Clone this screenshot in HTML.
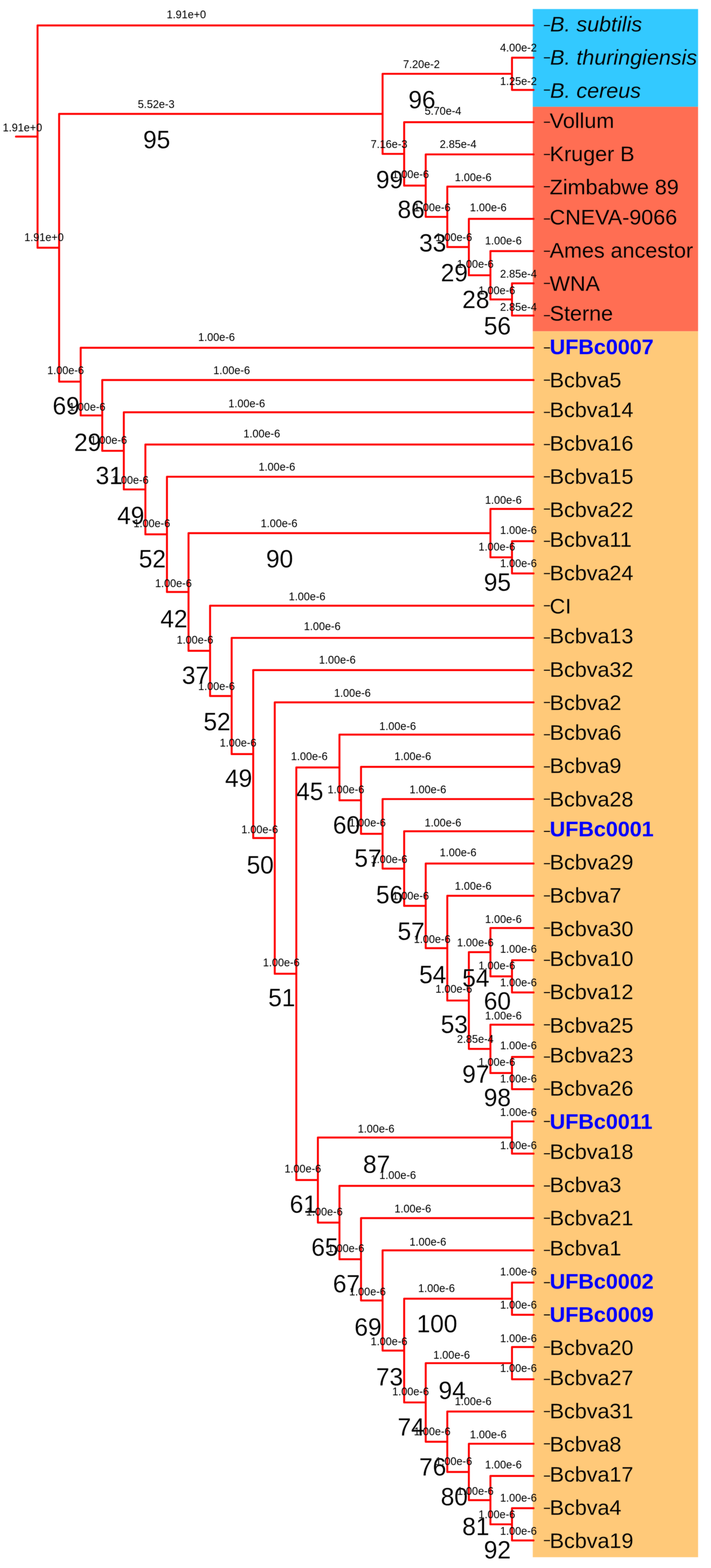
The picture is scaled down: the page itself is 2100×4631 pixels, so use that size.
<!DOCTYPE html>
<html lang="en"><head><meta charset="utf-8"><title>Phylogenetic tree</title>
<style>html,body{margin:0;padding:0;background:#fff}body{width:2100px;height:4631px;overflow:hidden}svg{display:block}.bl{filter:blur(1px)}text{font-family:"Liberation Sans",sans-serif;fill:#000}.s{font-size:32px;text-anchor:middle}.b{font-size:72px;text-anchor:middle;stroke:#fff;stroke-width:0.3px}.l{font-size:63.5px}.l{stroke-width:0.3px}.kb{stroke:#33c9ff}.kr{stroke:#ff6e53}.ko{stroke:#ffc979}.i{font-style:italic}.u{font-weight:bold;fill:#0000ff;stroke:none}</style></head><body>
<svg width="2100" height="4631" viewBox="0 0 2100 4631">
<g id="c">
<rect width="2100" height="4631" fill="#fff"/>
<rect x="1573.6" y="26.7" width="488.2" height="288.7" fill="#33c9ff"/>
<rect x="1573.6" y="315.4" width="488.2" height="663" fill="#ff6e53"/>
<rect x="1573.6" y="978.4" width="488.2" height="3620.7" fill="#ffc979"/>
<path d="M47.2 403.4H110.9M110.9 75.2V731.7M110.9 75.2H1575.9M110.9 731.7H174.6M174.6 336.3V1127.1M174.6 336.3H1130M1130 218V454.5M1130 218H1512.2M1512.2 170.4V265.6M1512.2 170.4H1575.9M1512.2 265.6H1575.9M1130 454.5H1193.7M1193.7 360.8V548.2M1193.7 360.8H1575.9M1193.7 548.2H1257.4M1257.4 456V640.5M1257.4 456H1575.9M1257.4 640.5H1321.1M1321.1 551.2V729.7M1321.1 551.2H1575.9M1321.1 729.7H1384.8M1384.8 646.4V813M1384.8 646.4H1575.9M1384.8 813H1448.5M1448.5 741.6V884.4M1448.5 741.6H1575.9M1448.5 884.4H1512.2M1512.2 836.8V932M1512.2 836.8H1575.9M1512.2 932H1575.9M174.6 1127.1H238.3M238.3 1027.2V1227M238.3 1027.2H1575.9M238.3 1227H302M302 1122.4V1331.5M302 1122.4H1575.9M302 1331.5H365.7M365.7 1217.6V1445.5M365.7 1217.6H1575.9M365.7 1445.5H429.4M429.4 1312.8V1578.2M429.4 1312.8H1575.9M429.4 1578.2H493.1M493.1 1408V1748.4M493.1 1408H1575.9M493.1 1748.4H556.8M556.8 1574.6V1922.2M556.8 1574.6H1448.5M1448.5 1503.2V1646M1448.5 1503.2H1575.9M1448.5 1646H1512.2M1512.2 1598.4V1693.6M1512.2 1598.4H1575.9M1512.2 1693.6H1575.9M556.8 1922.2H620.5M620.5 1788.8V2055.6M620.5 1788.8H1575.9M620.5 2055.6H684.2M684.2 1884V2227.2M684.2 1884H1575.9M684.2 2227.2H747.9M747.9 1979.2V2475.2M747.9 1979.2H1575.9M747.9 2475.2H811.5M811.5 2074.4V2875.9M811.5 2074.4H1575.9M811.5 2875.9H875.2M875.2 2266.7V3485.2M875.2 2266.7H1002.6M1002.6 2169.6V2363.7M1002.6 2169.6H1575.9M1002.6 2363.7H1066.3M1066.3 2264.8V2462.6M1066.3 2264.8H1575.9M1066.3 2462.6H1130M1130 2360V2565.3M1130 2360H1575.9M1130 2565.3H1193.7M1193.7 2455.2V2675.4M1193.7 2455.2H1575.9M1193.7 2675.4H1257.4M1257.4 2550.4V2800.3M1257.4 2550.4H1575.9M1257.4 2800.3H1321.1M1321.1 2645.6V2955M1321.1 2645.6H1575.9M1321.1 2955H1384.8M1384.8 2812.2V3097.8M1384.8 2812.2H1448.5M1448.5 2740.8V2883.6M1448.5 2740.8H1575.9M1448.5 2883.6H1512.2M1512.2 2836V2931.2M1512.2 2836H1575.9M1512.2 2931.2H1575.9M1384.8 3097.8H1448.5M1448.5 3026.4V3169.2M1448.5 3026.4H1575.9M1448.5 3169.2H1512.2M1512.2 3121.6V3216.8M1512.2 3121.6H1575.9M1512.2 3216.8H1575.9M875.2 3485.2H938.9M938.9 3359.6V3610.8M938.9 3359.6H1512.2M1512.2 3312V3407.2M1512.2 3312H1575.9M1512.2 3407.2H1575.9M938.9 3610.8H1002.6M1002.6 3502.4V3719.2M1002.6 3502.4H1575.9M1002.6 3719.2H1066.3M1066.3 3597.6V3840.8M1066.3 3597.6H1575.9M1066.3 3840.8H1130M1130 3692.8V3988.8M1130 3692.8H1575.9M1130 3988.8H1193.7M1193.7 3835.6V4142M1193.7 3835.6H1512.2M1512.2 3788V3883.2M1512.2 3788H1575.9M1512.2 3883.2H1575.9M1193.7 4142H1257.4M1257.4 4026V4258.1M1257.4 4026H1512.2M1512.2 3978.4V4073.6M1512.2 3978.4H1575.9M1512.2 4073.6H1575.9M1257.4 4258.1H1321.1M1321.1 4168.8V4347.3M1321.1 4168.8H1575.9M1321.1 4347.3H1384.8M1384.8 4264V4430.6M1384.8 4264H1575.9M1384.8 4430.6H1448.5M1448.5 4359.2V4502M1448.5 4359.2H1575.9M1448.5 4502H1512.2M1512.2 4454.4V4549.6M1512.2 4454.4H1575.9M1512.2 4549.6H1575.9" fill="none" stroke="#ff0000" stroke-width="5.7" stroke-linecap="round" stroke-linejoin="round"/>
<path d="M1606.5 75.5h18M1606.5 170.7h18M1606.5 265.9h18M1606.5 361.1h18M1606.5 456.3h18M1606.5 551.5h18M1606.5 646.7h18M1606.5 741.9h18M1606.5 837.1h18M1606.5 932.3h18M1606.5 1027.5h18M1606.5 1122.7h18M1606.5 1217.9h18M1606.5 1313.1h18M1606.5 1408.3h18M1606.5 1503.5h18M1606.5 1598.7h18M1606.5 1693.9h18M1606.5 1789.1h18M1606.5 1884.3h18M1606.5 1979.5h18M1606.5 2074.7h18M1606.5 2169.9h18M1606.5 2265.1h18M1606.5 2360.3h18M1606.5 2455.5h18M1606.5 2550.7h18M1606.5 2645.9h18M1606.5 2741.1h18M1606.5 2836.3h18M1606.5 2931.5h18M1606.5 3026.7h18M1606.5 3121.9h18M1606.5 3217.1h18M1606.5 3312.3h18M1606.5 3407.5h18M1606.5 3502.7h18M1606.5 3597.9h18M1606.5 3693.1h18M1606.5 3788.3h18M1606.5 3883.5h18M1606.5 3978.7h18M1606.5 4073.9h18M1606.5 4169.1h18M1606.5 4264.3h18M1606.5 4359.5h18M1606.5 4454.7h18M1606.5 4549.9h18" fill="none" stroke="#000" stroke-width="3"/>
<g class="s">
<text transform="matrix(1 0 0 1.04 66.3 388)">1.91e+0</text>
<text transform="matrix(1 0 0 1.04 550.4 54)">1.91e+0</text>
<text transform="matrix(1 0 0 1.04 130 712.1)">1.91e+0</text>
<text transform="matrix(1 0 0 1.04 461.2 319.2)">5.52e-3</text>
<text transform="matrix(1 0 0 1.04 1244.7 201.4)">7.20e-2</text>
<text transform="matrix(1 0 0 1.04 1531.3 152.2)">4.00e-2</text>
<text transform="matrix(1 0 0 1.04 1531.3 250.5)">1.25e-2</text>
<text transform="matrix(1 0 0 1.04 1149.1 437.1)">7.16e-3</text>
<text transform="matrix(1 0 0 1.04 1308.4 338.9)">5.70e-4</text>
<text transform="matrix(1 0 0 1.04 1212.8 525.5)">1.00e-6</text>
<text transform="matrix(1 0 0 1.04 1353 437.1)">2.85e-4</text>
<text transform="matrix(1 0 0 1.04 1276.5 623.7)">1.00e-6</text>
<text transform="matrix(1 0 0 1.04 1397.6 535.3)">1.00e-6</text>
<text transform="matrix(1 0 0 1.04 1340.2 712.1)">1.00e-6</text>
<text transform="matrix(1 0 0 1.04 1442.1 623.7)">1.00e-6</text>
<text transform="matrix(1 0 0 1.04 1403.9 790.7)">1.00e-6</text>
<text transform="matrix(1 0 0 1.04 1486.7 722)">1.00e-6</text>
<text transform="matrix(1 0 0 1.04 1467.6 869.3)">1.00e-6</text>
<text transform="matrix(1 0 0 1.04 1531.3 820.2)">2.85e-4</text>
<text transform="matrix(1 0 0 1.04 1531.3 918.4)">2.85e-4</text>
<text transform="matrix(1 0 0 1.04 193.7 1105.1)">1.00e-6</text>
<text transform="matrix(1 0 0 1.04 639.6 1006.8)">1.00e-6</text>
<text transform="matrix(1 0 0 1.04 257.4 1213.1)">1.00e-6</text>
<text transform="matrix(1 0 0 1.04 684.2 1105.1)">1.00e-6</text>
<text transform="matrix(1 0 0 1.04 321.1 1311.3)">1.00e-6</text>
<text transform="matrix(1 0 0 1.04 728.7 1203.3)">1.00e-6</text>
<text transform="matrix(1 0 0 1.04 384.8 1429.2)">1.00e-6</text>
<text transform="matrix(1 0 0 1.04 773.3 1291.7)">1.00e-6</text>
<text transform="matrix(1 0 0 1.04 448.5 1556.9)">1.00e-6</text>
<text transform="matrix(1 0 0 1.04 817.9 1389.9)">1.00e-6</text>
<text transform="matrix(1 0 0 1.04 512.2 1733.7)">1.00e-6</text>
<text transform="matrix(1 0 0 1.04 824.3 1556.9)">1.00e-6</text>
<text transform="matrix(1 0 0 1.04 1486.7 1488.2)">1.00e-6</text>
<text transform="matrix(1 0 0 1.04 1467.6 1625.7)">1.00e-6</text>
<text transform="matrix(1 0 0 1.04 1531.3 1576.6)">1.00e-6</text>
<text transform="matrix(1 0 0 1.04 1531.3 1674.8)">1.00e-6</text>
<text transform="matrix(1 0 0 1.04 575.9 1900.7)">1.00e-6</text>
<text transform="matrix(1 0 0 1.04 907.1 1773)">1.00e-6</text>
<text transform="matrix(1 0 0 1.04 639.6 2038.3)">1.00e-6</text>
<text transform="matrix(1 0 0 1.04 951.7 1861.4)">1.00e-6</text>
<text transform="matrix(1 0 0 1.04 703.3 2205.2)">1.00e-6</text>
<text transform="matrix(1 0 0 1.04 996.3 1959.7)">1.00e-6</text>
<text transform="matrix(1 0 0 1.04 767 2460.6)">1.00e-6</text>
<text transform="matrix(1 0 0 1.04 1040.9 2057.9)">1.00e-6</text>
<text transform="matrix(1 0 0 1.04 830.7 2853.6)">1.00e-6</text>
<text transform="matrix(1 0 0 1.04 913.5 2244.5)">1.00e-6</text>
<text transform="matrix(1 0 0 1.04 1174.6 2156.1)">1.00e-6</text>
<text transform="matrix(1 0 0 1.04 1021.7 2342.8)">1.00e-6</text>
<text transform="matrix(1 0 0 1.04 1219.2 2244.5)">1.00e-6</text>
<text transform="matrix(1 0 0 1.04 1085.4 2441)">1.00e-6</text>
<text transform="matrix(1 0 0 1.04 1263.8 2342.8)">1.00e-6</text>
<text transform="matrix(1 0 0 1.04 1149.1 2549)">1.00e-6</text>
<text transform="matrix(1 0 0 1.04 1308.4 2441)">1.00e-6</text>
<text transform="matrix(1 0 0 1.04 1212.8 2657.1)">1.00e-6</text>
<text transform="matrix(1 0 0 1.04 1353 2529.4)">1.00e-6</text>
<text transform="matrix(1 0 0 1.04 1276.5 2784.8)">1.00e-6</text>
<text transform="matrix(1 0 0 1.04 1397.6 2627.6)">1.00e-6</text>
<text transform="matrix(1 0 0 1.04 1340.2 2932.1)">1.00e-6</text>
<text transform="matrix(1 0 0 1.04 1403.9 2794.6)">1.00e-6</text>
<text transform="matrix(1 0 0 1.04 1486.7 2725.9)">1.00e-6</text>
<text transform="matrix(1 0 0 1.04 1467.6 2863.4)">1.00e-6</text>
<text transform="matrix(1 0 0 1.04 1531.3 2814.3)">1.00e-6</text>
<text transform="matrix(1 0 0 1.04 1531.3 2912.5)">1.00e-6</text>
<text transform="matrix(1 0 0 1.04 1403.9 3079.5)">2.85e-4</text>
<text transform="matrix(1 0 0 1.04 1486.7 3010.7)">1.00e-6</text>
<text transform="matrix(1 0 0 1.04 1467.6 3148.3)">1.00e-6</text>
<text transform="matrix(1 0 0 1.04 1531.3 3099.1)">1.00e-6</text>
<text transform="matrix(1 0 0 1.04 1531.3 3197.4)">1.00e-6</text>
<text transform="matrix(1 0 0 1.04 894.4 3462.6)">1.00e-6</text>
<text transform="matrix(1 0 0 1.04 1110.9 3344.7)">1.00e-6</text>
<text transform="matrix(1 0 0 1.04 1531.3 3295.6)">1.00e-6</text>
<text transform="matrix(1 0 0 1.04 1531.3 3393.8)">1.00e-6</text>
<text transform="matrix(1 0 0 1.04 958 3590.3)">1.00e-6</text>
<text transform="matrix(1 0 0 1.04 1174.6 3482.2)">1.00e-6</text>
<text transform="matrix(1 0 0 1.04 1021.7 3698.3)">1.00e-6</text>
<text transform="matrix(1 0 0 1.04 1219.2 3580.5)">1.00e-6</text>
<text transform="matrix(1 0 0 1.04 1085.4 3826)">1.00e-6</text>
<text transform="matrix(1 0 0 1.04 1263.8 3678.7)">1.00e-6</text>
<text transform="matrix(1 0 0 1.04 1149.1 3973.4)">1.00e-6</text>
<text transform="matrix(1 0 0 1.04 1289.3 3816.2)">1.00e-6</text>
<text transform="matrix(1 0 0 1.04 1531.3 3767.1)">1.00e-6</text>
<text transform="matrix(1 0 0 1.04 1531.3 3865.3)">1.00e-6</text>
<text transform="matrix(1 0 0 1.04 1212.8 4120.7)">1.00e-6</text>
<text transform="matrix(1 0 0 1.04 1333.9 4012.7)">1.00e-6</text>
<text transform="matrix(1 0 0 1.04 1531.3 3963.6)">1.00e-6</text>
<text transform="matrix(1 0 0 1.04 1531.3 4052)">1.00e-6</text>
<text transform="matrix(1 0 0 1.04 1276.5 4238.6)">1.00e-6</text>
<text transform="matrix(1 0 0 1.04 1397.6 4150.2)">1.00e-6</text>
<text transform="matrix(1 0 0 1.04 1340.2 4327)">1.00e-6</text>
<text transform="matrix(1 0 0 1.04 1442.1 4248.4)">1.00e-6</text>
<text transform="matrix(1 0 0 1.04 1403.9 4415.4)">1.00e-6</text>
<text transform="matrix(1 0 0 1.04 1486.7 4336.8)">1.00e-6</text>
<text transform="matrix(1 0 0 1.04 1467.6 4484.2)">1.00e-6</text>
<text transform="matrix(1 0 0 1.04 1531.3 4435.1)">1.00e-6</text>
<text transform="matrix(1 0 0 1.04 1531.3 4533.3)">1.00e-6</text>
</g><g class="b">
<text transform="matrix(1 0 0 1.02 462.7 438.1)">95</text>
<text transform="matrix(1 0 0 1.02 1246.2 320.2)">96</text>
<text transform="matrix(1 0 0 1.02 1150.6 556)">99</text>
<text transform="matrix(1 0 0 1.02 1214.3 644.4)">86</text>
<text transform="matrix(1 0 0 1.02 1278 742.6)">33</text>
<text transform="matrix(1 0 0 1.02 1341.7 831)">29</text>
<text transform="matrix(1 0 0 1.02 1405.4 909.6)">28</text>
<text transform="matrix(1 0 0 1.02 1469.1 988.2)">56</text>
<text transform="matrix(1 0 0 1.02 195.2 1223.9)">69</text>
<text transform="matrix(1 0 0 1.02 258.9 1332)">29</text>
<text transform="matrix(1 0 0 1.02 322.6 1430.2)">31</text>
<text transform="matrix(1 0 0 1.02 386.3 1548.1)">49</text>
<text transform="matrix(1 0 0 1.02 450 1675.8)">52</text>
<text transform="matrix(1 0 0 1.02 513.7 1852.6)">42</text>
<text transform="matrix(1 0 0 1.02 825.8 1675.8)">90</text>
<text transform="matrix(1 0 0 1.02 1469.1 1744.6)">95</text>
<text transform="matrix(1 0 0 1.02 577.4 2019.6)">37</text>
<text transform="matrix(1 0 0 1.02 641.1 2157.1)">52</text>
<text transform="matrix(1 0 0 1.02 704.8 2324.1)">49</text>
<text transform="matrix(1 0 0 1.02 768.5 2579.5)">50</text>
<text transform="matrix(1 0 0 1.02 832.2 2972.4)">51</text>
<text transform="matrix(1 0 0 1.02 915 2363.4)">45</text>
<text transform="matrix(1 0 0 1.02 1023.2 2461.6)">60</text>
<text transform="matrix(1 0 0 1.02 1086.9 2559.9)">57</text>
<text transform="matrix(1 0 0 1.02 1150.6 2667.9)">56</text>
<text transform="matrix(1 0 0 1.02 1214.3 2776)">57</text>
<text transform="matrix(1 0 0 1.02 1278 2903.7)">54</text>
<text transform="matrix(1 0 0 1.02 1341.7 3051)">53</text>
<text transform="matrix(1 0 0 1.02 1405.4 2913.5)">54</text>
<text transform="matrix(1 0 0 1.02 1469.1 2982.3)">60</text>
<text transform="matrix(1 0 0 1.02 1405.4 3198.4)">97</text>
<text transform="matrix(1 0 0 1.02 1469.1 3267.1)">98</text>
<text transform="matrix(1 0 0 1.02 895.9 3581.5)">61</text>
<text transform="matrix(1 0 0 1.02 1112.4 3463.6)">87</text>
<text transform="matrix(1 0 0 1.02 959.5 3709.2)">65</text>
<text transform="matrix(1 0 0 1.02 1023.2 3817.2)">67</text>
<text transform="matrix(1 0 0 1.02 1086.9 3944.9)">69</text>
<text transform="matrix(1 0 0 1.02 1150.6 4092.3)">73</text>
<text transform="matrix(1 0 0 1.02 1290.8 3935.1)">100</text>
<text transform="matrix(1 0 0 1.02 1214.3 4239.6)">74</text>
<text transform="matrix(1 0 0 1.02 1335.4 4131.6)">94</text>
<text transform="matrix(1 0 0 1.02 1278 4357.5)">76</text>
<text transform="matrix(1 0 0 1.02 1341.7 4445.9)">80</text>
<text transform="matrix(1 0 0 1.02 1405.4 4534.3)">81</text>
<text transform="matrix(1 0 0 1.02 1469.1 4603.1)">92</text>
</g><g class="l">
<text x="1624.8" y="92.8" class="i kb">B. subtilis</text>
<text x="1624.8" y="191" class="i kb">B. thuringiensis</text>
<text x="1624.8" y="289.3" class="i kb">B. cereus</text>
<text x="1623.6" y="377.7" class="kr">Vollum</text>
<text x="1623.6" y="475.9" class="kr">Kruger B</text>
<text x="1623.6" y="574.1" class="kr">Zimbabwe 89</text>
<text x="1623.6" y="662.5" class="kr">CNEVA-9066</text>
<text x="1623.6" y="760.8" class="kr">Ames ancestor</text>
<text x="1623.6" y="859" class="kr">WNA</text>
<text x="1623.6" y="947.4" class="kr">Sterne</text>
<text x="1623.6" y="1045.6" class="u ko">UFBc0007</text>
<text x="1623.6" y="1143.9" class="ko">Bcbva5</text>
<text x="1623.6" y="1232.3" class="ko">Bcbva14</text>
<text x="1623.6" y="1330.5" class="ko">Bcbva16</text>
<text x="1623.6" y="1428.7" class="ko">Bcbva15</text>
<text x="1623.6" y="1527" class="ko">Bcbva22</text>
<text x="1623.6" y="1615.4" class="ko">Bcbva11</text>
<text x="1623.6" y="1713.6" class="ko">Bcbva24</text>
<text x="1623.6" y="1811.8" class="ko">CI</text>
<text x="1623.6" y="1900.2" class="ko">Bcbva13</text>
<text x="1623.6" y="1998.5" class="ko">Bcbva32</text>
<text x="1623.6" y="2096.7" class="ko">Bcbva2</text>
<text x="1623.6" y="2185.1" class="ko">Bcbva6</text>
<text x="1623.6" y="2283.3" class="ko">Bcbva9</text>
<text x="1623.6" y="2381.6" class="ko">Bcbva28</text>
<text x="1623.6" y="2470" class="u ko">UFBc0001</text>
<text x="1623.6" y="2568.2" class="ko">Bcbva29</text>
<text x="1623.6" y="2666.4" class="ko">Bcbva7</text>
<text x="1623.6" y="2764.7" class="ko">Bcbva30</text>
<text x="1623.6" y="2853.1" class="ko">Bcbva10</text>
<text x="1623.6" y="2951.3" class="ko">Bcbva12</text>
<text x="1623.6" y="3049.5" class="ko">Bcbva25</text>
<text x="1623.6" y="3137.9" class="ko">Bcbva23</text>
<text x="1623.6" y="3236.2" class="ko">Bcbva26</text>
<text x="1623.6" y="3334.4" class="u ko">UFBc0011</text>
<text x="1623.6" y="3422.8" class="ko">Bcbva18</text>
<text x="1623.6" y="3521" class="ko">Bcbva3</text>
<text x="1623.6" y="3619.3" class="ko">Bcbva21</text>
<text x="1623.6" y="3707.7" class="ko">Bcbva1</text>
<text x="1623.6" y="3805.9" class="u ko">UFBc0002</text>
<text x="1623.6" y="3904.1" class="u ko">UFBc0009</text>
<text x="1623.6" y="4002.4" class="ko">Bcbva20</text>
<text x="1623.6" y="4090.8" class="ko">Bcbva27</text>
<text x="1623.6" y="4189" class="ko">Bcbva31</text>
<text x="1623.6" y="4287.2" class="ko">Bcbva8</text>
<text x="1623.6" y="4375.6" class="ko">Bcbva17</text>
<text x="1623.6" y="4473.9" class="ko">Bcbva4</text>
<text x="1623.6" y="4572.1" class="ko">Bcbva19</text>
</g></g>
<use href="#c" class="bl" opacity="0.5"/>
</svg></body></html>
